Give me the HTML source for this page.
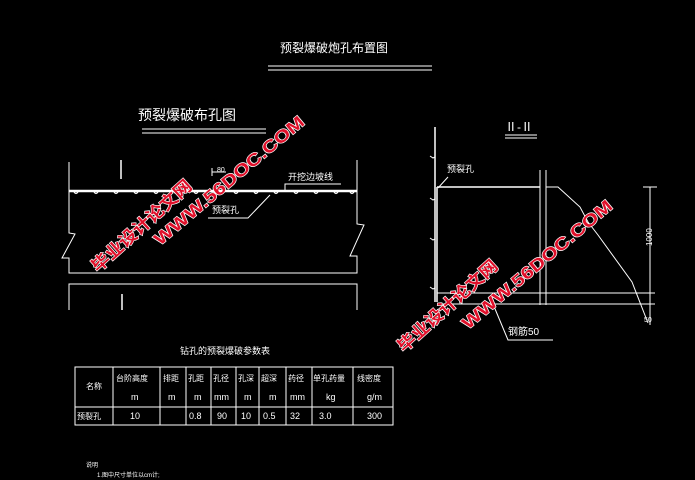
<!DOCTYPE html>
<html><head><meta charset="utf-8"><style>
html,body{margin:0;padding:0;background:#000;width:695px;height:480px;overflow:hidden}
svg{display:block}
text{font-family:"Liberation Sans","Noto Sans CJK SC",sans-serif;fill:#fff}
.wm{font-family:"Liberation Sans","Noto Sans CJK SC",sans-serif;font-weight:bold;fill:#e0102a;stroke:#fff;stroke-width:1.3;paint-order:stroke}
</style></head><body>
<svg width="695" height="480" viewBox="0 0 695 480" xmlns="http://www.w3.org/2000/svg">
<g stroke="#fff" fill="none" stroke-width="1">
<line x1="268" y1="66" x2="432" y2="66"/><line x1="268" y1="70" x2="432" y2="70"/>
<line x1="142" y1="129" x2="266" y2="129"/><line x1="142" y1="133" x2="266" y2="133"/>
<polyline points="69,162 69,233 75,234 62,258 69,258 69,273 357,273 357,256 350,256 364,225 357,224 357,160"/>
<line x1="69" y1="191" x2="357" y2="191" stroke-width="2.5"/>
<g stroke-width="1.2">
<path d="M74,192 q2,3 4,0 M94,192 q2,3 4,0 M114,192 q2,3 4,0 M134,192 q2,3 4,0 M154,192 q2,3 4,0 M174,192 q2,3 4,0 M194,192 q2,3 4,0 M214,192 q2,3 4,0 M234,192 q2,3 4,0 M254,192 q2,3 4,0 M274,192 q2,3 4,0 M294,192 q2,3 4,0 M314,192 q2,3 4,0 M334,192 q2,3 4,0 M350,192 q2,3 4,0"/>
</g>
<line x1="121" y1="160" x2="121" y2="179" stroke-width="1.5"/>
<line x1="212" y1="168" x2="212" y2="176"/><line x1="212" y1="172" x2="226" y2="172"/>
<polyline points="270,195 248,218 208,218"/>
<polyline points="285,190 285,184 341,184"/>
<polyline points="69,310 69,284 357,284 357,310"/>
<line x1="122" y1="294" x2="122" y2="310" stroke-width="1.5"/>
<line x1="505" y1="135" x2="537" y2="135"/><line x1="505" y1="138" x2="537" y2="138"/>
<line x1="435" y1="127" x2="435" y2="302" stroke-width="1.5"/>
<line x1="437" y1="187" x2="437" y2="302" stroke-width="1.5"/>
<polyline points="430,156 433,158 435,157"/><polyline points="430,198 433,200 435,199"/>
<polyline points="430,238 433,240 435,239"/><polyline points="430,287 433,289 435,288"/>
<line x1="437" y1="187" x2="540" y2="187" stroke-width="1.5"/>
<line x1="540" y1="170" x2="540" y2="305"/><line x1="546" y1="170" x2="546" y2="305"/>
<polyline points="546,187 558,187 580,207 588,222 598,235 632,282 648,323"/>
<line x1="437" y1="293" x2="655" y2="293"/><line x1="437" y1="304" x2="655" y2="304"/>
<line x1="650" y1="187" x2="650" y2="325"/>
<line x1="643" y1="187" x2="657" y2="187"/>
<polyline points="438,188 448,177"/>
<polyline points="493,304 508,340 553,340"/>
<rect x="75" y="367" width="318" height="58"/>
<line x1="75" y1="407" x2="393" y2="407"/>
<line x1="113" y1="367" x2="113" y2="425"/><line x1="160" y1="367" x2="160" y2="425"/>
<line x1="186" y1="367" x2="186" y2="425"/><line x1="211" y1="367" x2="211" y2="425"/>
<line x1="236" y1="367" x2="236" y2="425"/><line x1="259" y1="367" x2="259" y2="425"/>
<line x1="286" y1="367" x2="286" y2="425"/><line x1="312" y1="367" x2="312" y2="425"/>
<line x1="353" y1="367" x2="353" y2="425"/>
</g>
<g font-size="11">
<text x="280" y="52" font-size="12">预裂爆破炮孔布置图</text>
<text x="138" y="120" font-size="14">预裂爆破布孔图</text>
<text x="217" y="172" font-size="7">80</text>
<text x="288" y="180" font-size="9">开挖边坡线</text>
<text x="212" y="213" font-size="9">预裂孔</text>
<text x="505" y="131" font-size="12">Ⅱ-Ⅱ</text>
<text x="447" y="172" font-size="9">预裂孔</text>
<text x="508" y="335" font-size="10">钢筋50</text>
<text x="652" y="246" font-size="8" transform="rotate(-90 652 246)">1000</text>
<text x="644" y="322" font-size="7">50</text>
<text x="180" y="354" font-size="9">钻孔的预裂爆破参数表</text>
<g font-size="8">
<text x="86" y="389">名称</text>
<text x="116" y="381">台阶高度</text><text x="163" y="381">排距</text><text x="188" y="381">孔距</text>
<text x="213" y="381">孔径</text><text x="238" y="381">孔深</text><text x="261" y="381">超深</text>
<text x="288" y="381">药径</text><text x="313" y="381">单孔药量</text><text x="357" y="381">线密度</text>
</g>
<g font-size="9">
<text x="131" y="400">m</text><text x="168" y="400">m</text><text x="194" y="400">m</text>
<text x="214" y="400">mm</text><text x="244" y="400">m</text><text x="269" y="400">m</text>
<text x="290" y="400">mm</text><text x="326" y="400">kg</text><text x="367" y="400">g/m</text>
<text x="77" y="419" font-size="8">预裂孔</text>
<text x="130" y="419">10</text><text x="189" y="419">0.8</text><text x="217" y="419">90</text>
<text x="241" y="419">10</text><text x="263" y="419">0.5</text><text x="290" y="419">32</text>
<text x="319" y="419">3.0</text><text x="367" y="419">300</text>
</g>
<text x="86" y="467" font-size="6">说明</text>
<text x="97" y="477" font-size="6">1.图中尺寸单位以cm计;</text>
</g>
<text class="wm" font-size="17" x="98" y="273" textLength="128" lengthAdjust="spacingAndGlyphs" transform="rotate(-42 98 273)">毕业设计论文网</text>
<text class="wm" font-size="17" x="160" y="246" textLength="190" lengthAdjust="spacingAndGlyphs" transform="rotate(-40 160 246)">WWW.56DOC.COM</text>
<text class="wm" font-size="17" x="404" y="353" textLength="128" lengthAdjust="spacingAndGlyphs" transform="rotate(-42 404 353)">毕业设计论文网</text>
<text class="wm" font-size="17" x="468" y="330" textLength="190" lengthAdjust="spacingAndGlyphs" transform="rotate(-40 468 330)">WWW.56DOC.COM</text>
</svg>
</body></html>
